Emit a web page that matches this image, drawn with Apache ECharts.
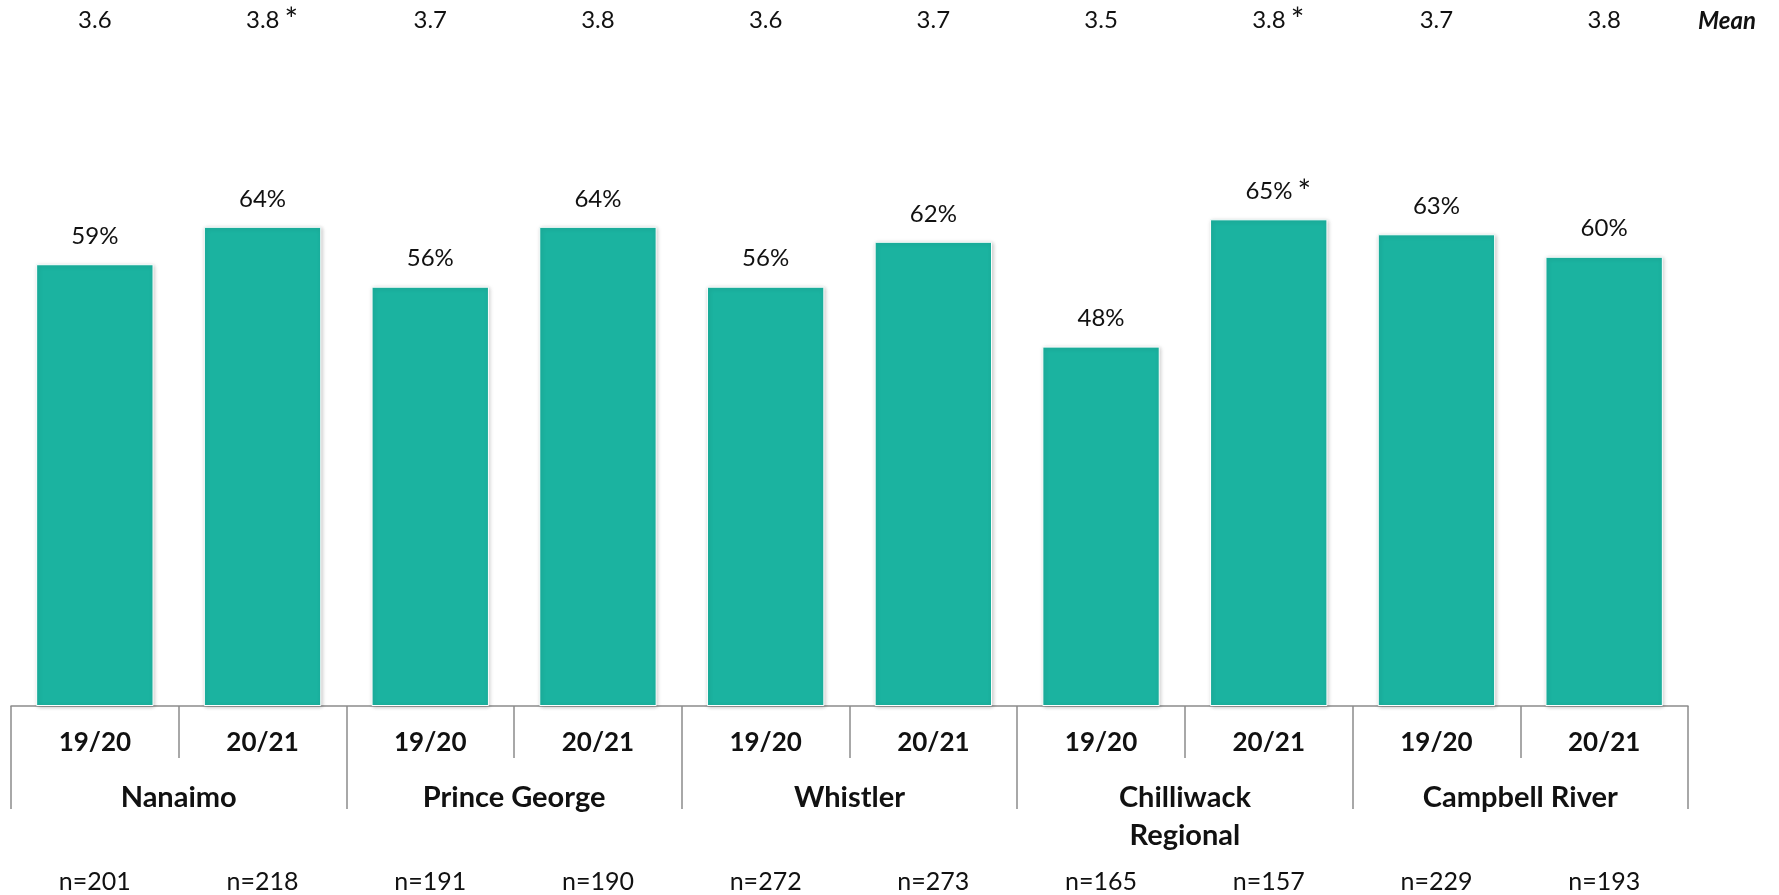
<!DOCTYPE html>
<html>
<head>
<meta charset="utf-8">
<script src="https://cdn.jsdelivr.net/npm/echarts@6/dist/echarts.min.js"></script>
<style>
  html, body { margin: 0; padding: 0; background: #fff; }
  #chart { width: 1779px; height: 895px; }
</style>
</head>
<body>
<div id="chart"></div>
<script>
const cities = ['Nanaimo', 'Prince George', 'Whistler', 'Chilliwack\nRegional', 'Campbell River']
const years = ['19/20', '20/21', '19/20', '20/21', '19/20', '20/21', '19/20', '20/21', '19/20', '20/21']
const pctValues = [59, 64, 56, 64, 56, 62, 48, 65, 63, 60]
const pctStar = [false, false, false, false, false, false, false, true, false, false]
const meanValues = ['3.6', '3.8', '3.7', '3.8', '3.6', '3.7', '3.5', '3.8', '3.7', '3.8']
const meanStar = [false, true, false, false, false, false, false, true, false, false]
const sampleSizes = [201, 218, 191, 190, 272, 273, 165, 157, 229, 193]

const font = 'Lato'
const axisGrey = '#8c8c8c'

// value + raised asterisk, padded on the left so the number stays centred
const starRich = {
  p: { width: 19, fontSize: 24, lineHeight: 30, fontFamily: font },
  v: { fontSize: 24, lineHeight: 30, color: '#111', fontFamily: font },
  s: { fontSize: 32, lineHeight: 18, verticalAlign: 'top', padding: [0, 0, 0, 5], color: '#111', fontFamily: font },
}
const withStar = (text, star) => (star ? `{p|}{v|${text}}{s|*}` : `{v|${text}}`)

const chart = echarts.init(document.getElementById('chart'))
chart.setOption({
  animation: false,
  title: {
    text: 'Mean',
    left: 1698,
    top: 9,
    padding: 0,
    textStyle: { fontFamily: font, fontSize: 24, fontWeight: 'bold', fontStyle: 'italic', color: '#111' },
  },
  grid: { left: 11, right: 91, top: 107, bottom: 189 },
  xAxis: [
    {
      type: 'category',
      position: 'bottom',
      data: years,
      axisLine: { show: true, lineStyle: { color: axisGrey, width: 1.5 } },
      axisTick: { show: true, length: 52, interval: 0, lineStyle: { color: axisGrey, width: 1.5 } },
      axisLabel: { interval: 0, margin: 24, fontFamily: font, fontSize: 26, fontWeight: 'bold', color: '#111' },
    },
    {
      type: 'category',
      position: 'bottom',
      data: cities,
      axisLine: { show: false },
      axisTick: { show: true, length: 103, interval: 0, lineStyle: { color: axisGrey, width: 1.5 } },
      axisLabel: { interval: 0, margin: 73, lineHeight: 38, fontFamily: font, fontSize: 29, fontWeight: 'bold', color: '#111' },
    },
    {
      type: 'category',
      position: 'bottom',
      data: sampleSizes.map((n) => 'n=' + n),
      axisLine: { show: false },
      axisTick: { show: false },
      axisLabel: { interval: 0, margin: 163, fontFamily: font, fontSize: 25, color: '#111' },
    },
    {
      type: 'category',
      position: 'top',
      data: meanValues,
      axisLine: { show: false },
      axisTick: { show: false },
      axisLabel: {
        interval: 0,
        margin: 72,
        formatter: (val, idx) => withStar(val, meanStar[idx]),
        rich: starRich,
      },
    },
  ],
  yAxis: { type: 'value', min: 0, max: 80, show: false },
  series: [
    {
      type: 'bar',
      xAxisIndex: 0,
      data: pctValues,
      barWidth: '70%',
      itemStyle: {
        color: '#1bb3a0',
        borderColor: '#ffffff',
        borderWidth: 1,
        shadowColor: 'rgba(0,0,0,0.22)',
        shadowBlur: 4,
        shadowOffsetX: 1,
        shadowOffsetY: 1,
      },
      label: {
        show: true,
        position: 'top',
        distance: 13,
        formatter: (p) => withStar(p.value + '%', pctStar[p.dataIndex]),
        rich: starRich,
      },
    },
  ],
})
</script>
</body>
</html>
